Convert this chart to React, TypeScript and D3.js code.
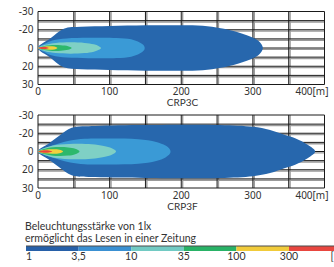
import React, { useEffect, useRef } from "react";
import * as d3 from "d3";

// axis values
const distTicks = [0, 100, 200, 300, 400];
const distGrid = [0, 50, 100, 150, 200, 250, 300, 350, 400];
const latTicks = [-30, -20, 0, 20, 30];
const latGrid = [-30, -25, -20, -10, 0, 10, 20, 25, 30];

// legend
const luxLabels = ["1", "3,5", "10", "35", "100", "300", "[lx]"];
const luxColors = ["#2760a8", "#3a90d2", "#72cac3", "#29b266", "#f1cb3a", "#e8463f"];
const areaColors = ["#2767ad", "#3a9ad6", "#7fd0c5", "#2db86c", "#f2d03e", "#e8453c"];

// isolux contours, upper edge as [distance m, half width m], one list per lux level
const crp3c = [
  [[0, 0], [17, 10.3], [36, 20.6], [60, 21.6], [100, 22], [150, 22.4], [200, 22.5], [230, 22.2], [255, 20.8], [273, 18.6], [297, 12.4], [308, 7.7], [314, 0]],
  [[0, 0], [10, 5], [20, 8.3], [40, 10.5], [70, 11.2], [110, 11], [130, 9.5], [142, 6], [148, 2.5], [149, 0]],
  [[0, 0], [10, 3.5], [25, 5.5], [45, 6.2], [65, 5.6], [78, 4], [85, 2], [88, 0]],
  [[0, 0], [8, 2], [20, 3.2], [32, 3], [42, 2], [47, 0]],
  [[0, 0], [8, 1.5], [17, 2], [23, 1.6], [27, 0]],
  [[0, 0], [5, 1], [11, 1], [15, 0]],
];

const crp3f = [
  [[0, 0], [15, 8.8], [31, 18], [47, 23], [80, 24], [150, 24.5], [254, 24.5], [300, 23.5], [324, 21.8], [345, 18], [359, 14.5], [377, 7.1], [387, 0]],
  [[0, 0], [10, 4], [17, 5.8], [30, 9], [45, 12], [65, 14], [100, 14.3], [140, 13.5], [165, 10.5], [178, 6.5], [184, 2.5], [185, 0]],
  [[0, 0], [10, 4], [25, 7], [50, 8.5], [75, 8], [92, 6], [103, 3.5], [109, 0]],
  [[0, 0], [10, 3], [25, 4.8], [42, 4.5], [52, 3], [58, 0]],
  [[0, 0], [10, 2], [22, 2.5], [30, 2], [35, 0]],
  [[0, 0], [6, 1.1], [15, 1.1], [20, 0]],
];

const plots = [
  { name: "CRP3C", contours: crp3c },
  { name: "CRP3F", contours: crp3f },
];

const W = 334;
const H = 267;
const tickFont = "'Noto Sans', sans-serif";
const textFont = "Lato, 'Noto Sans', sans-serif";

export default function App() {
  const svgRef = useRef<SVGSVGElement>(null);

  useEffect(() => {
    const svg = d3.select(svgRef.current);
    svg.selectAll("*").remove();

    const x = d3.scaleLinear().domain([0, 400]).range([38, 324.5]);
    const step = 9.125;
    const tops = [11.5, 115];

    plots.forEach((p, pi) => {
      const top = tops[pi];
      // lateral axis is not linear: equal spacing for -30,-20,0,20,30
      const y = d3.scaleLinear()
        .domain(latTicks)
        .range(latTicks.map((_, i) => top + i * 2 * step));

      const g = svg.append("g");

      const clipId = "clip" + pi;
      svg.append("clipPath").attr("id", clipId)
        .append("rect")
        .attr("x", x(0)).attr("y", y(-30))
        .attr("width", x(400) - x(0)).attr("height", y(30) - y(-30));

      // grid with a grey shadow
      latGrid.slice(1, -1).forEach((v) => {
        g.append("line").attr("x1", x(0)).attr("x2", x(400))
          .attr("y1", y(v) + 1.4).attr("y2", y(v) + 1.4)
          .attr("stroke", "#9a9a9a").attr("stroke-width", 1.4);
      });
      distGrid.slice(1, -1).forEach((v) => {
        g.append("line").attr("y1", y(-30)).attr("y2", y(30))
          .attr("x1", x(v) + 1.4).attr("x2", x(v) + 1.4)
          .attr("stroke", "#9a9a9a").attr("stroke-width", 1.4);
      });
      latGrid.forEach((v) => {
        g.append("line").attr("x1", x(0)).attr("x2", x(400))
          .attr("y1", y(v)).attr("y2", y(v))
          .attr("stroke", "#1a1a1a").attr("stroke-width", 1);
      });
      distGrid.forEach((v) => {
        g.append("line").attr("y1", y(-30)).attr("y2", y(30))
          .attr("x1", x(v)).attr("x2", x(v))
          .attr("stroke", "#1a1a1a").attr("stroke-width", 1);
      });

      // isolux areas, closed smooth outline mirrored on the axis
      const line = d3.line<number[]>()
        .x((d) => d[0]).y((d) => d[1])
        .curve(d3.curveCatmullRomClosed.alpha(0.5));

      const shapes = g.append("g").attr("clip-path", `url(#${clipId})`);
      p.contours.forEach((c, ci) => {
        const upper = c.map(([d, w]) => [x(d), y(-w)]);
        const lower = c.slice(1, -1).reverse().map(([d, w]) => [x(d), y(w)]);
        shapes.append("path")
          .attr("d", line(upper.concat(lower)))
          .attr("fill", areaColors[ci]);
      });

      // tick labels
      latTicks.forEach((v) => {
        g.append("text").attr("x", 33.5).attr("y", y(v) + 3.6)
          .attr("text-anchor", "end")
          .attr("font-family", tickFont).attr("font-size", 10)
          .attr("fill", "#333").text(v);
      });
      distTicks.forEach((v, i) => {
        const last = i === distTicks.length - 1;
        g.append("text").attr("x", last ? x(v) + 4 : x(v)).attr("y", y(30) + 10.5)
          .attr("text-anchor", last ? "end" : "middle")
          .attr("font-family", tickFont).attr("font-size", 10)
          .attr("fill", "#333").text(last ? v + "[m]" : v);
      });

      g.append("text").attr("x", 182.5).attr("y", y(30) + 21.5)
        .attr("text-anchor", "middle")
        .attr("font-family", textFont).attr("font-size", 10)
        .attr("fill", "#333").text(p.name);
    });

    // legend
    const lg = svg.append("g");
    lg.append("text").attr("x", 25).attr("y", 229.5)
      .attr("font-family", textFont).attr("font-size", 10.5)
      .attr("fill", "#333").text("Beleuchtungsstärke von 1lx");
    lg.append("text").attr("x", 25).attr("y", 242)
      .attr("font-family", textFont).attr("font-size", 10.5)
      .attr("fill", "#333").text("ermöglicht das Lesen in einer Zeitung");

    const lx = d3.scaleLinear().domain([0, 6]).range([26, 341.6]);
    luxColors.forEach((c, i) => {
      lg.append("rect").attr("x", lx(i)).attr("y", 246)
        .attr("width", lx(i + 1) - lx(i)).attr("height", 5)
        .attr("fill", c);
    });
    lg.append("line").attr("x1", lx(0)).attr("x2", W)
      .attr("y1", 246).attr("y2", 246)
      .attr("stroke", "#4a4a4a").attr("stroke-width", 1);

    luxLabels.forEach((t, i) => {
      const first = i === 0;
      const last = i === luxLabels.length - 1;
      lg.append("text")
        .attr("x", first ? lx(i) : last ? lx(i) - 11 : lx(i))
        .attr("y", 259.5)
        .attr("text-anchor", first || last ? "start" : "middle")
        .attr("font-family", textFont).attr("font-size", 10.5)
        .attr("fill", "#333").text(t);
    });
  }, []);

  return (
    <svg
      ref={svgRef}
      width={W}
      height={H}
      style={{ position: "absolute", left: 0, top: 0, background: "#fff" }}
    />
  );
}
